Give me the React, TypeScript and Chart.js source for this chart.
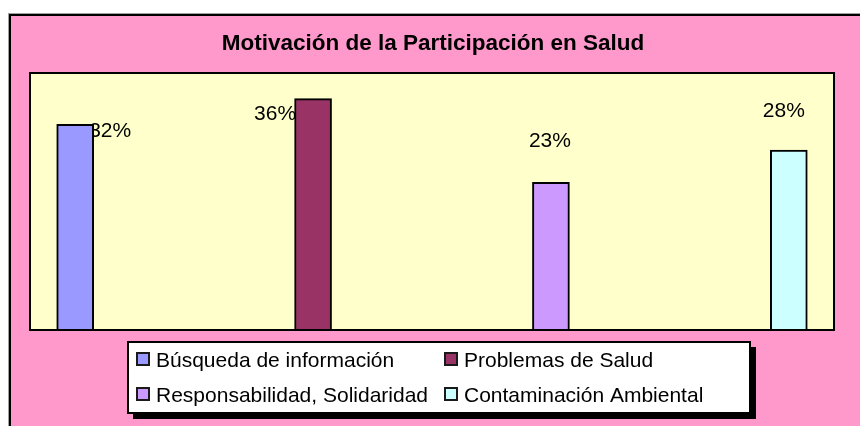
import { useEffect, useRef } from "react";
import { Chart, registerables } from "chart.js";

Chart.register(...registerables);

const chartTitle = "Motivación de la Participación en Salud";
const categories = [
  "Búsqueda de información",
  "Problemas de Salud",
  "Responsabilidad, Solidaridad",
  "Contaminación Ambiental",
];
const values = [32, 36, 23, 28];
const valueLabels = ["32%", "36%", "23%", "28%"];
const seriesColors = ["#9999FF", "#993366", "#CC99FF", "#CCFFFF"];

const FONT = "'Liberation Sans', Arial, Helvetica, sans-serif";
// manual label placement offsets (relative to bar top centre), as in the original
const LABEL_OFFSETS = [
  [35, 13],
  [-38, 21],
  [-1, -35],
  [-5, -33],
];

const decorPlugin = {
  id: "decor",
  beforeDraw(chart: any) {
    const { ctx, chartArea: a, width, height } = chart;
    ctx.save();
    ctx.fillStyle = "#ffffff";
    ctx.fillRect(0, 0, width, height);
    // outer chart area
    ctx.fillStyle = "#FF99CC";
    ctx.fillRect(10, 15, width, height);
    ctx.strokeStyle = "#a0a0a0";
    ctx.lineWidth = 1;
    ctx.strokeRect(8.5, 13.5, width + 20, height + 20);
    ctx.strokeStyle = "#000000";
    ctx.lineWidth = 2;
    ctx.strokeRect(10, 15, width + 20, height + 20);
    // plot area
    ctx.fillStyle = "#FFFFCC";
    ctx.fillRect(a.left, a.top, a.right - a.left, a.bottom - a.top);
    // title
    ctx.fillStyle = "#000000";
    ctx.font = `bold 22.5px ${FONT}`;
    ctx.textAlign = "center";
    ctx.textBaseline = "alphabetic";
    ctx.fillText(chartTitle, (a.left + a.right) / 2 + 1, a.top - 23);
    ctx.restore();
  },
  beforeDatasetsDraw(chart: any) {
    const { ctx } = chart;
    ctx.save();
    ctx.fillStyle = "#000000";
    ctx.font = `21px ${FONT}`;
    ctx.textAlign = "center";
    ctx.textBaseline = "alphabetic";
    chart.data.datasets.forEach((_ds: any, i: number) => {
      const meta = chart.getDatasetMeta(i);
      const el = meta.data[0];
      if (!el) return;
      const [dx, dy] = LABEL_OFFSETS[i];
      ctx.fillText(valueLabels[i], el.x + dx, el.y + dy);
    });
    ctx.restore();
  },
  afterDatasetsDraw(chart: any) {
    const { ctx, chartArea: a } = chart;
    ctx.save();
    ctx.strokeStyle = "#000000";
    ctx.lineWidth = 2;
    ctx.strokeRect(a.left, a.top, a.right - a.left, a.bottom - a.top);
    ctx.restore();
  },
  afterDraw(chart: any) {
    const { ctx } = chart;
    const bx = 128;
    const by = 342;
    const bw = 622;
    const bh = 71;
    ctx.save();
    // shadow
    ctx.fillStyle = "#000000";
    ctx.fillRect(bx + 5, by + 5, bw + 1, bh + 1);
    ctx.fillStyle = "#ffffff";
    ctx.fillRect(bx, by, bw, bh);
    ctx.strokeStyle = "#000000";
    ctx.lineWidth = 2;
    ctx.strokeRect(bx, by, bw, bh);
    ctx.font = `21px ${FONT}`;
    ctx.textAlign = "left";
    ctx.textBaseline = "alphabetic";
    const colX = [136, 444];
    const rowY = [352, 387];
    categories.forEach((label, i) => {
      const col = i % 2;
      const row = Math.floor(i / 2);
      const sx = colX[col];
      const sy = rowY[row];
      ctx.fillStyle = seriesColors[i];
      ctx.fillRect(sx, sy, 14, 14);
      ctx.strokeStyle = "#1a1a1a";
      ctx.lineWidth = 2;
      ctx.strokeRect(sx + 1, sy + 1, 12, 12);
      ctx.fillStyle = "#000000";
      ctx.fillText(label, sx + 20, sy + 14.5);
    });
    ctx.restore();
  },
};

export default function App() {
  const ref = useRef<HTMLCanvasElement | null>(null);
  useEffect(() => {
    if (!ref.current) return;
    const chart = new Chart(ref.current, {
      type: "bar",
      data: {
        datasets: categories.map((label, i) => ({
          label,
          data: [{ x: i, y: values[i] }],
          backgroundColor: seriesColors[i],
          borderColor: "#000000",
          borderWidth: 2,
          grouped: false,
          barThickness: 37,
        })),
      },
      options: {
        animation: false,
        responsive: false,
        devicePixelRatio: 1,
        events: [],
        layout: { padding: { left: 30, top: 73, right: 26, bottom: 96 } },
        plugins: {
          legend: { display: false },
          title: { display: false },
          tooltip: { enabled: false },
        },
        scales: {
          x: { type: "linear", min: -0.19, max: 3.19, offset: false, display: false },
          y: { min: 0, max: 40, display: false },
        },
      },
      plugins: [decorPlugin],
    } as any);
    return () => chart.destroy();
  }, []);
  return (
    <div style={{ position: "absolute", left: 0, top: 0, width: 860, height: 426 }}>
      <canvas ref={ref} width={860} height={426} style={{ display: "block" }} />
    </div>
  );
}
